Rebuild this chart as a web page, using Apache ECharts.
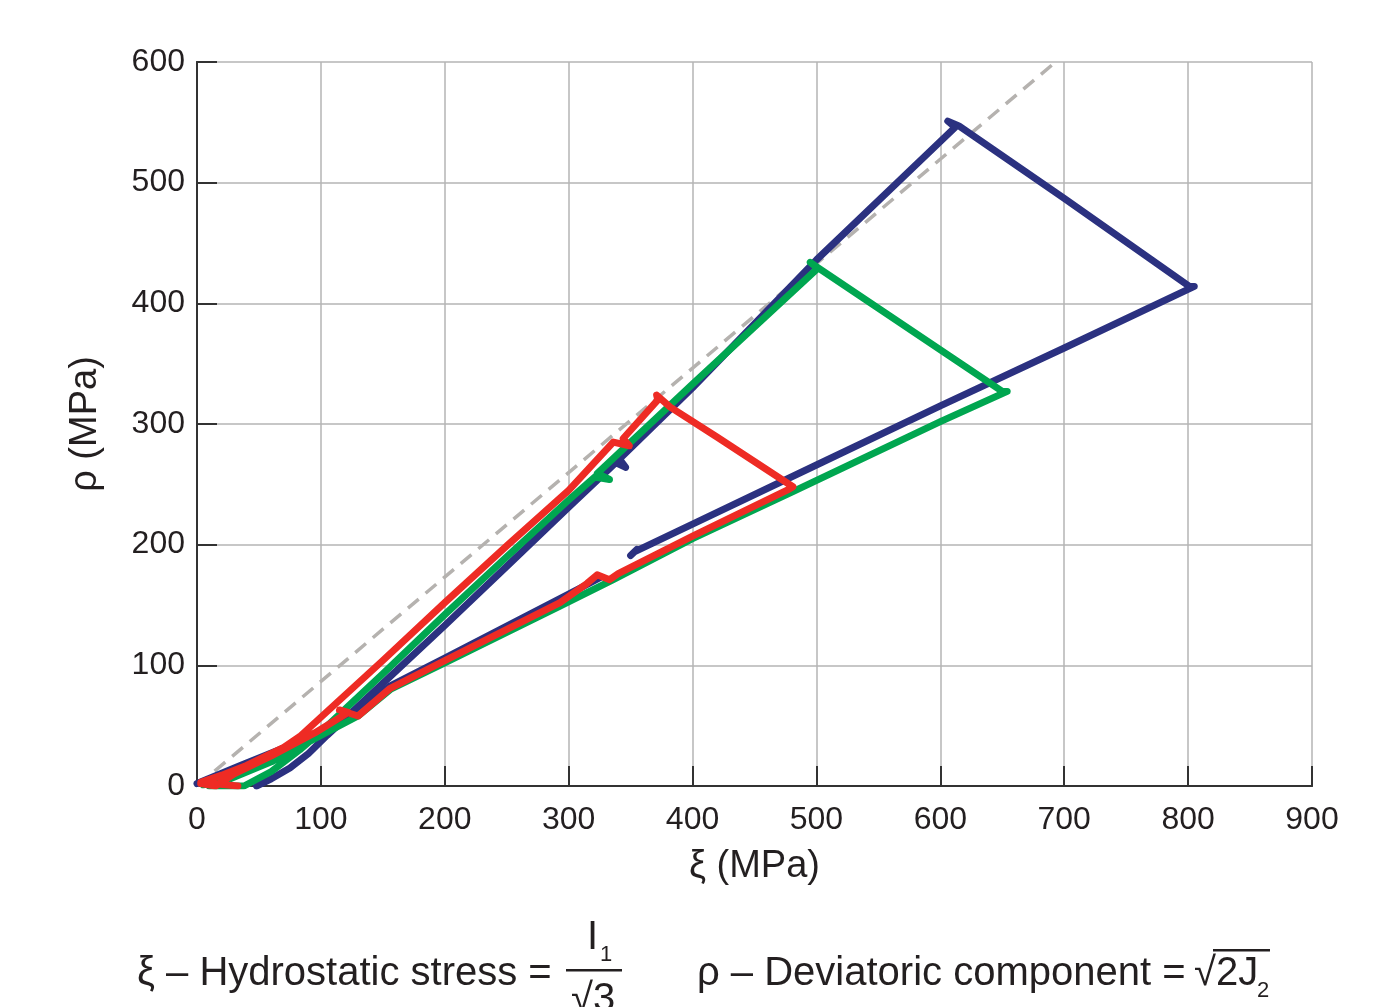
<!DOCTYPE html>
<html>
<head>
<meta charset="utf-8">
<script src="https://cdn.jsdelivr.net/npm/echarts@6/dist/echarts.min.js"></script>
<style>
html,body{margin:0;padding:0;background:#fff;}
#chart{width:1388px;height:1007px;}
</style>
</head>
<body>
<div id="chart"></div>
<script>
// Axis ticks
var xTicks = [0, 100, 200, 300, 400, 500, 600, 700, 800, 900];
var yTicks = [0, 100, 200, 300, 400, 500, 600];

// Reference dashed line (xi, rho)
var dashedLine = [[0, 0], [693, 600]];

// Blue test: start stub and main path (xi, rho) in MPa
var blueStart = [[0, 2], [35, 17], [71, 32], [100, 42]];
var blueMain = [[48, 0], [60, 6], [75, 15], [90, 27], [105, 42], [150, 85], [200, 133], [250, 182], [300, 231],
  [338, 268], [346, 264], [341, 271], [400, 330], [500, 436], [612, 546], [606, 551], [615, 547],
  [700, 487], [801, 414], [805, 414], [700, 363], [600, 315], [500, 266], [400, 217], [353, 194], [350, 191], [355, 196]];
var blueLower = [[326, 173], [300, 159], [200, 106], [156, 83], [130, 62]];

// Green test
var greenPath = [[10, 0], [38, 0], [60, 12], [83, 30], [100, 45], [150, 93], [200, 142], [250, 190], [300, 237],
  [321, 256], [333, 254], [323, 259], [400, 333], [501, 429], [495, 434], [502, 429], [650, 327], [654, 327],
  [600, 302], [481, 244], [400, 205], [336, 171], [293, 149], [200, 102], [156, 80], [130, 58], [100, 42],
  [60, 20], [20, 3], [5, 1]];

// Red test
var redPath = [[33, 0], [3, 3], [20, 9], [40, 17], [70, 32], [83, 41], [100, 57], [150, 104], [200, 152],
  [250, 199], [300, 245], [336, 285], [349, 282], [344, 288], [372, 320], [371, 324], [382, 314],
  [420, 289], [481, 248], [478, 246], [400, 207], [340, 176], [333, 171], [323, 175], [315, 168],
  [293, 152], [200, 104], [156, 81], [130, 58], [115, 63], [122, 61], [95, 44], [60, 25], [30, 10], [15, 0], [3, 2]];

var chart = echarts.init(document.getElementById('chart'), null, {renderer: 'canvas'});
var FONT = '"Liberation Sans", Arial, sans-serif';
var axisCol = '#333333';
var gridCol = '#b4b4b4';
var txtCol = '#231f20';

function lineSeries(data, color, z) {
  return {type: 'line', data: data, showSymbol: false, symbol: 'none', smooth: false, z: z,
    lineStyle: {color: color, width: 7, cap: 'round', join: 'round'}, xAxisIndex: 0, yAxisIndex: 0, silent: true, animation: false};
}

// tick-only axes, shifted inward so that outward ticks sit inside the frame
function tickAxis(type, pos, min, max) {
  return {type: 'value', min: min, max: max, interval: 100, position: pos, offset: -10,
    axisLine: {show: false}, axisLabel: {show: false}, splitLine: {show: false},
    axisTick: {show: true, inside: false, length: 10, lineStyle: {color: axisCol, width: 2}}};
}
function frameAxis(pos, min, max) {
  return {type: 'value', min: min, max: max, interval: 100, position: pos,
    axisLine: {show: true, lineStyle: {color: axisCol, width: 2}},
    axisTick: {show: false}, axisLabel: {show: false}, splitLine: {show: false}};
}

var option = {
  animation: false,
  backgroundColor: '#ffffff',
  grid: {left: 197, right: 76, top: 62, bottom: 221, containLabel: false},
  xAxis: [{
    type: 'value', min: 0, max: 900, interval: 100, position: 'bottom',
    name: 'ξ (MPa)', nameLocation: 'middle', nameGap: 62,
    nameTextStyle: {fontFamily: FONT, fontSize: 38, color: txtCol},
    axisLine: {show: true, lineStyle: {color: axisCol, width: 2}},
    axisTick: {show: false},
    axisLabel: {fontFamily: FONT, fontSize: 32, color: txtCol, margin: 18, formatter: function (v) { return xTicks.indexOf(v) >= 0 ? String(v) : ''; }},
    splitLine: {show: true, lineStyle: {color: gridCol, width: 1.5}}
  }, frameAxis('top', 0, 900), tickAxis('x', 'bottom', 0, 900), tickAxis('x', 'top', 0, 900)],
  yAxis: [{
    type: 'value', min: 0, max: 600, interval: 100, position: 'left',
    name: 'ρ (MPa)', nameLocation: 'middle', nameGap: 92, nameRotate: 90,
    nameTextStyle: {fontFamily: FONT, fontSize: 38, color: txtCol},
    axisLine: {show: true, lineStyle: {color: axisCol, width: 2}},
    axisTick: {show: false},
    axisLabel: {fontFamily: FONT, fontSize: 32, color: txtCol, margin: 12, padding: [6, 0, 0, 0], formatter: function (v) { return yTicks.indexOf(v) >= 0 ? String(v) : ''; }},
    splitLine: {show: true, lineStyle: {color: gridCol, width: 1.5}}
  }, frameAxis('right', 0, 600), tickAxis('y', 'left', 0, 600), tickAxis('y', 'right', 0, 600)],
  series: [
    {type: 'line', data: dashedLine, showSymbol: false, symbol: 'none', z: 2, silent: true,
      lineStyle: {color: '#b5b2af', width: 3.5, type: [14, 9]}},
    lineSeries(blueStart, '#2b3180', 3),
    lineSeries(blueLower, '#2b3180', 3),
    lineSeries(blueMain, '#2b3180', 3),
    lineSeries(greenPath, '#00a650', 4),
    lineSeries(redPath, '#ee2b24', 5)
  ],
  graphic: [
    {type: 'text', left: 137, top: 954, style: {text: 'ξ – Hydrostatic stress =', font: '40px ' + FONT, fill: txtCol}},
    {type: 'text', left: 587, top: 918, style: {text: 'I', font: '40px ' + FONT, fill: txtCol}},
    {type: 'text', left: 600, top: 944, style: {text: '1', font: '22px ' + FONT, fill: txtCol}},
    {type: 'rect', shape: {x: 566, y: 969, width: 56, height: 2.5}, style: {fill: txtCol}},
    {type: 'text', left: 571, top: 980, style: {text: '√3', font: '40px ' + FONT, fill: txtCol}},
    {type: 'text', left: 697, top: 954, style: {text: 'ρ – Deviatoric component =', font: '40px ' + FONT, fill: txtCol}},
    {type: 'text', left: 1194, top: 954, style: {text: '√2J', font: '40px ' + FONT, fill: txtCol}},
    {type: 'rect', shape: {x: 1213, y: 949, width: 57, height: 2.5}, style: {fill: txtCol}},
    {type: 'text', left: 1257, top: 980, style: {text: '2', font: '22px ' + FONT, fill: txtCol}}
  ]
};
chart.setOption(option);
</script>
</body>
</html>
